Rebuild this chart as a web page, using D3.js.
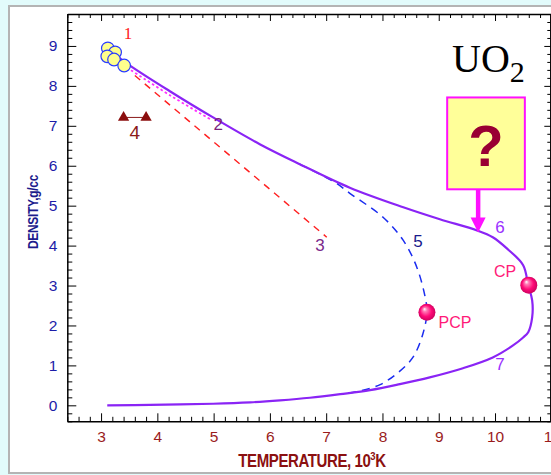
<!DOCTYPE html>
<html>
<head>
<meta charset="utf-8">
<script src="https://cdn.jsdelivr.net/npm/d3@7"></script>
<style>
  html, body { margin: 0; padding: 0; background: #e2fbfb; }
  svg { display: block; }
</style>
</head>
<body>
<svg id="chart" width="551" height="475"></svg>
<script>
// ---- data (temperature in 10^3 K, density in g/cc) ----
// binodal: upper (liquid) branch 6 -> critical point -> lower (vapour) branch 7
const binodalT   = [3.16, 3.43, 4.23, 4.99, 5.82, 6.53, 7.42, 8.37, 9.02, 9.68, 9.96, 10.21, 10.50, 10.59, 10.66, 10.66, 10.59, 10.50, 10.32, 9.96, 9.43, 8.84, 8.31, 7.78, 7.25, 6.71, 6.18, 5.65, 4.99, 3.87, 3.11];
const binodalRho = [8.89, 8.59, 7.86, 7.21, 6.54, 6.04, 5.45, 4.96, 4.66, 4.38, 4.21, 3.93, 3.51, 3.01, 2.63, 2.20, 1.83, 1.70, 1.50, 1.20, 0.93, 0.70, 0.53, 0.38, 0.28, 0.19, 0.125, 0.075, 0.04, 0.01, 0.00];
// curve 5 (dashed blue) through the pseudo-critical point
const curve5T   = [6.53, 7.16, 7.42, 8.01, 8.37, 8.61, 8.76, 8.79, 8.72, 8.54, 8.26, 7.96, 7.60, 7.25];
const curve5Rho = [6.04, 5.58, 5.31, 4.71, 4.13, 3.46, 2.70, 2.33, 1.80, 1.20, 0.80, 0.52, 0.36, 0.28];
// curve 2 (dotted magenta)
const curve2T   = [3.46, 4.23, 4.97];
const curve2Rho = [8.46, 7.76, 7.14];
// curve 3 (dashed red)
const curve3T   = [3.60, 7.01];
const curve3Rho = [8.26, 4.21];
// set 1: measured liquid densities (circles)
const set1T   = [3.12, 3.25, 3.11, 3.23, 3.41];
const set1Rho = [8.94, 8.84, 8.74, 8.66, 8.51];
// set 4: triangles
const set4T   = [3.40, 3.80];
const set4Rho = [7.21, 7.21];
// critical points
const cpT = 10.60, cpRho = 3.01;
const pcpT = 8.79, pcpRho = 2.33;
// axis ticks
const xTicks = [3, 4, 5, 6, 7, 8, 9, 10, 11];
const yTicks = [0, 1, 2, 3, 4, 5, 6, 7, 8, 9];

const svg = d3.select("#chart");

// panel frame
svg.append("rect").attr("x", 9).attr("y", 6).attr("width", 560).attr("height", 467)
  .attr("fill", "#ffffff").attr("stroke", "#b4b4b4").attr("stroke-width", 2);

const x = d3.scaleLinear().domain([2.4, 11.0]).range([67.3, 551.3]);
const y = d3.scaleLinear().domain([-0.4, 9.8]).range([421.3, 14]);

const minorX = d3.range(2.4, 11.001, 0.2).map(v => +v.toFixed(1)).filter(v => !xTicks.includes(v));
const minorY = d3.range(-0.4, 9.801, 0.2).map(v => +v.toFixed(1)).filter(v => !yTicks.includes(v));

const sans = "Liberation Sans, Arial, sans-serif";
const axes = svg.append("g");
function drawAxis(axisFn, scale, tr, major, minor, majLen, minLen, labels) {
  const gMin = axes.append("g").attr("transform", tr)
    .call(axisFn(scale).tickValues(minor).tickSizeInner(-minLen).tickSizeOuter(0).tickFormat(""));
  gMin.select(".domain").remove();
  const gMaj = axes.append("g").attr("transform", tr)
    .call(axisFn(scale).tickValues(major).tickSizeInner(-majLen).tickSizeOuter(0)
      .tickPadding(labels ? 10 : 0).tickFormat(labels ? d3.format("d") : ""));
  [gMin, gMaj].forEach(g => g.selectAll("line").attr("stroke", "#000").attr("stroke-width", 1));
  gMaj.select(".domain").attr("stroke", "#000").attr("stroke-width", 1.5);
  return gMaj;
}
const gx = drawAxis(d3.axisBottom, x, `translate(0,${y.range()[0]})`, xTicks, minorX, 8, 4.5, true);
gx.selectAll("text").attr("fill", "#9a1c1c").attr("font-family", sans)
  .attr("font-size", 15.5).attr("dy", "0.72em");
drawAxis(d3.axisTop, x, `translate(0,${y.range()[1]})`, xTicks, minorX, 7, 4, false);
const gy = drawAxis(d3.axisLeft, y, `translate(${x.range()[0]},0)`, yTicks, minorY, 9, 5, true);
gy.selectAll("text").attr("fill", "#1c1ca8").attr("font-family", sans).attr("font-size", 15.5);
drawAxis(d3.axisRight, y, `translate(${x.range()[1] - 1},0)`, yTicks, minorY, 6, 3, false);

// axis titles (condensed bold)
svg.append("text").attr("transform", `translate(38,212) rotate(-90) scale(0.8,1)`)
  .attr("text-anchor", "middle").attr("font-family", sans)
  .attr("font-weight", "bold").attr("font-size", 15).attr("letter-spacing", "-0.4")
  .attr("fill", "#1c1c8c").text("DENSITY,g/cc");
const xt = svg.append("text").attr("transform", `translate(312,467) scale(0.86,1)`).attr("text-anchor", "middle")
  .attr("font-family", sans).attr("font-weight", "bold")
  .attr("font-size", 17.5).attr("letter-spacing", "-0.5").attr("fill", "#8b1010");
xt.append("tspan").text("TEMPERATURE, 10");
xt.append("tspan").attr("dy", -7).attr("font-size", 11).text("3");
xt.append("tspan").attr("dy", 7).text("K");

// curves
const pts = (ts, rs) => ts.map((t, i) => [t, rs[i]]);
const line = d3.line().x(d => x(d[0])).y(d => y(d[1])).curve(d3.curveCatmullRom.alpha(0.5));
const plot = svg.append("g");

plot.append("path").datum(pts(curve3T, curve3Rho)).attr("d", line)
  .attr("fill", "none").attr("stroke", "#ff1f1f").attr("stroke-width", 1.4).attr("stroke-dasharray", "7,6");
plot.append("path").datum(pts(curve2T, curve2Rho)).attr("d", line)
  .attr("fill", "none").attr("stroke", "#ff30ff").attr("stroke-width", 1.8).attr("stroke-dasharray", "2.5,2.5");
plot.append("path").datum(pts(curve5T, curve5Rho)).attr("d", line)
  .attr("fill", "none").attr("stroke", "#1a2cf0").attr("stroke-width", 1.5).attr("stroke-dasharray", "8,6");
plot.append("path").datum(pts(binodalT, binodalRho)).attr("d", line)
  .attr("fill", "none").attr("stroke", "#8a24f5").attr("stroke-width", 2.2);

// set 4 triangles joined by a line
plot.append("line").attr("x1", x(set4T[0])).attr("x2", x(set4T[1]))
  .attr("y1", y(set4Rho[0])).attr("y2", y(set4Rho[1])).attr("stroke", "#8b1a1a").attr("stroke-width", 1);
plot.selectAll(".tri").data(pts(set4T, set4Rho)).join("path")
  .attr("transform", d => `translate(${x(d[0])},${y(d[1])})`)
  .attr("d", d3.symbol(d3.symbolTriangle, 55)).attr("fill", "#8b0e0e");

// set 1 circles
plot.selectAll(".c1").data(pts(set1T, set1Rho)).join("circle")
  .attr("cx", d => x(d[0])).attr("cy", d => y(d[1])).attr("r", 6.3)
  .attr("fill", "#ffff8c").attr("stroke", "#2a3cff").attr("stroke-width", 1.2);

// glossy spheres for the critical points
const defs = svg.append("defs");
const grad = defs.append("radialGradient").attr("id", "ball").attr("cx", "50%").attr("cy", "50%").attr("r", "55%")
  .attr("fx", "35%").attr("fy", "30%");
grad.append("stop").attr("offset", "0%").attr("stop-color", "#ffffff");
grad.append("stop").attr("offset", "22%").attr("stop-color", "#ff7ab5");
grad.append("stop").attr("offset", "60%").attr("stop-color", "#ff0a78");
grad.append("stop").attr("offset", "100%").attr("stop-color", "#c4005a");
plot.selectAll(".ball").data([[cpT, cpRho], [pcpT, pcpRho]]).join("circle")
  .attr("cx", d => x(d[0])).attr("cy", d => y(d[1])).attr("r", 8.5).attr("fill", "url(#ball)");

// curve labels
const labels = [
  { t: "1", T: 3.48, R: 9.32, c: "#ff2020", f: "Liberation Serif, Times New Roman, serif", s: 17 },
  { t: "2", T: 5.08, R: 7.04, c: "#7b1f7b", f: sans, s: 17 },
  { t: "3", T: 6.89, R: 4.01, c: "#7b2a8b", f: sans, s: 17 },
  { t: "4", T: 3.60, R: 6.84, c: "#8b1a1a", f: sans, s: 19 },
  { t: "5", T: 8.63, R: 4.13, c: "#1a1a8c", f: sans, s: 17 },
  { t: "6", T: 10.09, R: 4.48, c: "#9b30ff", f: sans, s: 17 },
  { t: "7", T: 10.09, R: 1.05, c: "#9b30ff", f: sans, s: 17 },
  { t: "CP", T: 10.18, R: 3.36, c: "#ff1a78", f: sans, s: 16 },
  { t: "PCP", T: 9.29, R: 2.08, c: "#ff1a78", f: sans, s: 16 }
];
plot.selectAll(".lbl").data(labels).join("text")
  .attr("x", d => x(d.T)).attr("y", d => y(d.R)).attr("dy", "0.36em").attr("text-anchor", "middle")
  .attr("font-family", d => d.f).attr("font-size", d => d.s).attr("fill", d => d.c).text(d => d.t);

// formula
const uo = svg.append("text").attr("x", 452).attr("y", 72)
  .attr("font-family", "Liberation Serif, Times New Roman, serif").attr("font-size", 40).attr("fill", "#000");
uo.append("tspan").text("UO");
uo.append("tspan").attr("dy", 10).attr("font-size", 30).text("2");

// question box with arrow onto branch 6
const bx0 = x(9.15), bx1 = x(10.53), by0 = y(7.71), by1 = y(5.41);
svg.append("rect").attr("x", bx0).attr("y", by0).attr("width", bx1 - bx0).attr("height", by1 - by0)
  .attr("fill", "#ffff99").attr("stroke", "#ff10ff").attr("stroke-width", 2);
svg.append("text").attr("x", (bx0 + bx1) / 2).attr("y", 166).attr("text-anchor", "middle")
  .attr("font-family", sans).attr("font-weight", "bold").attr("font-size", 58).attr("fill", "#990033").text("?");
const ax = x(9.70), tipY = y(4.33);
svg.append("line").attr("x1", ax).attr("x2", ax).attr("y1", by1).attr("y2", tipY - 12)
  .attr("stroke", "#ff10ff").attr("stroke-width", 4.5);
svg.append("path").attr("d", `M${ax - 7.5},${tipY - 15} L${ax + 7.5},${tipY - 15} L${ax},${tipY} Z`)
  .attr("fill", "#ff10ff");
</script>
</body>
</html>
